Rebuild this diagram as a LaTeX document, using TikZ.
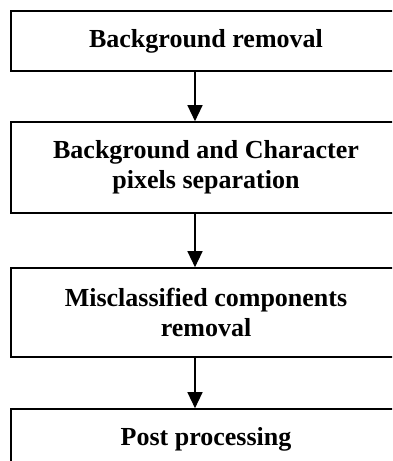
\documentclass[tikz,border=0pt]{standalone}
\usepackage{fontspec}
\setmainfont{Liberation Serif}
\usetikzlibrary{arrows.meta}
\tikzset{
  stepbox/.style={rectangle, draw, line width=1.6pt, fill=white, minimum width=390pt,
    inner sep=0pt, align=center, font=\fontsize{26}{30}\selectfont\bfseries},
  flow/.style={draw, line width=1.3pt, -{Triangle[width=15pt,length=16pt]}}
}
\begin{document}
\begin{tikzpicture}[x=1pt, y=-1pt]
  \useasboundingbox (0,0) rectangle (392,461);
  \clip (0,0) rectangle (392,461);
  \node[stepbox, minimum height=60pt] (A) at (206, 41) {Background removal};
  \node[stepbox, minimum height=91pt] (B) at (206, 167.5) {Background and Character\\pixels separation};
  \node[stepbox, minimum height=89pt] (C) at (206, 312.5) {Misclassified components\\removal};
  \node[stepbox, minimum height=61pt] (D) at (206, 439.5) {Post processing};
  \coordinate (ax) at (195, 0);
  \draw[flow] (A.south -| ax) -- (B.north -| ax);
  \draw[flow] (B.south -| ax) -- (C.north -| ax);
  \draw[flow] (C.south -| ax) -- (D.north -| ax);
\end{tikzpicture}
\end{document}
